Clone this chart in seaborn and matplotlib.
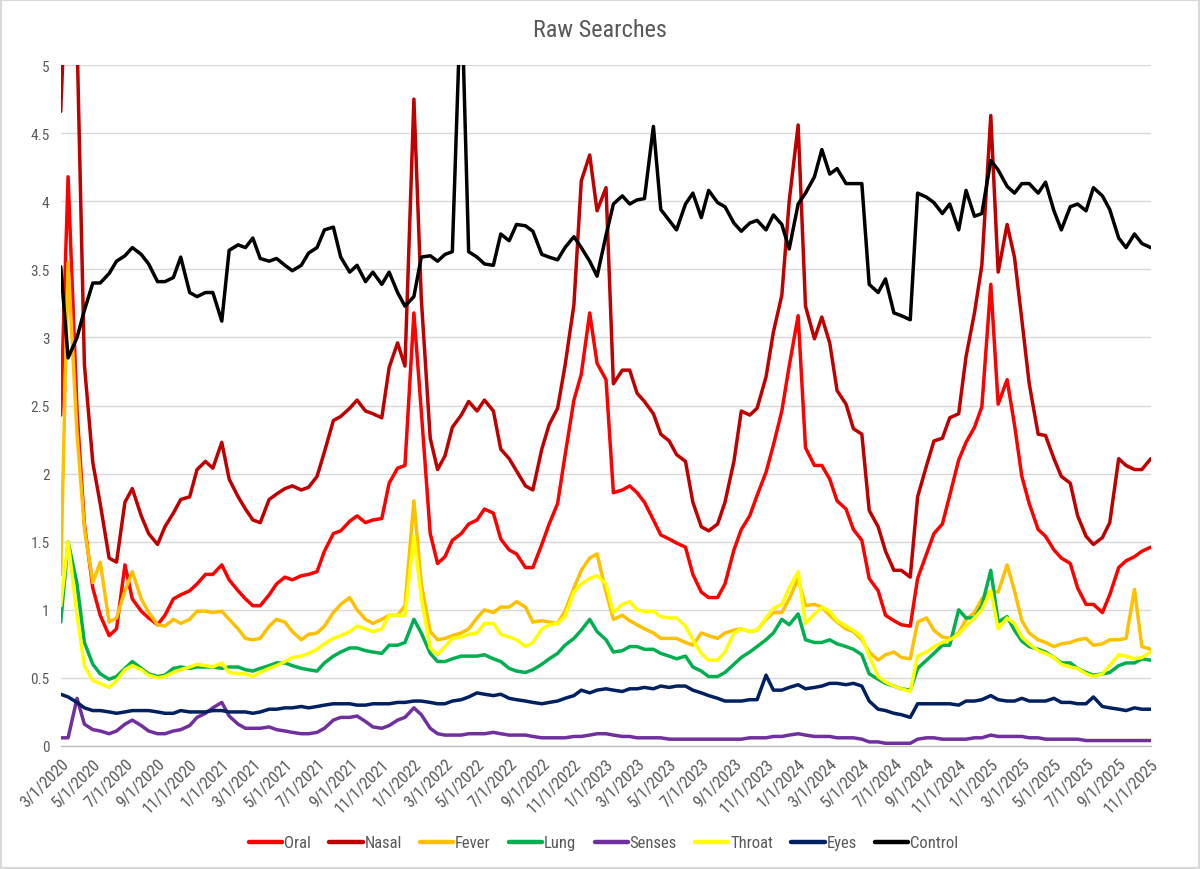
import pandas as pd
import matplotlib
matplotlib.use('Agg')
import matplotlib.pyplot as plt
import matplotlib.dates as mdates
from matplotlib.ticker import FuncFormatter
from matplotlib.lines import Line2D
from matplotlib.patches import Rectangle
from matplotlib import font_manager
import seaborn as sns

# Semi-monthly sample dates (1st and 15th), 3/1/2020 .. 11/1/2025
dates = pd.date_range('2020-03-01', '2025-11-01', freq='SMS')

oral = [2.43, 4.18, 2.46, 1.63, 1.16, 0.96, 0.81, 0.86, 1.33, 1.08,
        0.99, 0.94, 0.89, 0.96, 1.08, 1.11, 1.14, 1.19, 1.26, 1.26,
        1.33, 1.22, 1.14, 1.08, 1.03, 1.03, 1.11, 1.19, 1.24, 1.22,
        1.25, 1.26, 1.28, 1.43, 1.56, 1.58, 1.65, 1.69, 1.64, 1.66,
        1.67, 1.93, 2.04, 2.06, 3.18, 2.46, 1.56, 1.34, 1.39, 1.51,
        1.56, 1.63, 1.66, 1.74, 1.71, 1.52, 1.44, 1.41, 1.31, 1.31,
        1.48, 1.63, 1.78, 2.13, 2.54, 2.73, 3.18, 2.81, 2.69, 1.86,
        1.88, 1.91, 1.86, 1.79, 1.66, 1.55, 1.52, 1.49, 1.46, 1.26,
        1.13, 1.09, 1.09, 1.19, 1.44, 1.59, 1.69, 1.84, 2.01, 2.21,
        2.46, 2.79, 3.16, 2.19, 2.06, 2.06, 1.96, 1.80, 1.74, 1.59,
        1.51, 1.23, 1.14, 0.96, 0.92, 0.89, 0.88, 1.23, 1.41, 1.56,
        1.63, 1.84, 2.10, 2.23, 2.34, 2.49, 3.39, 2.51, 2.69, 2.36,
        1.98, 1.78, 1.59, 1.54, 1.44, 1.38, 1.34, 1.16, 1.04, 1.04,
        0.98, 1.11, 1.31, 1.36, 1.39, 1.43, 1.46]

nasal = [4.66, 6.00, 5.20, 2.80, 2.08, 1.78, 1.38, 1.35, 1.79, 1.89,
         1.69, 1.56, 1.48, 1.61, 1.71, 1.81, 1.83, 2.03, 2.09, 2.04,
         2.23, 1.96, 1.83, 1.74, 1.66, 1.64, 1.81, 1.85, 1.89, 1.91,
         1.88, 1.90, 1.98, 2.16, 2.39, 2.42, 2.48, 2.54, 2.46, 2.44,
         2.41, 2.78, 2.96, 2.79, 4.75, 3.29, 2.26, 2.03, 2.13, 2.34,
         2.43, 2.53, 2.46, 2.54, 2.46, 2.18, 2.11, 2.02, 1.91, 1.88,
         2.18, 2.36, 2.48, 2.79, 3.24, 4.15, 4.34, 3.93, 4.10, 2.66,
         2.76, 2.76, 2.59, 2.53, 2.44, 2.29, 2.24, 2.14, 2.09, 1.79,
         1.61, 1.58, 1.63, 1.79, 2.09, 2.46, 2.43, 2.48, 2.71, 3.04,
         3.31, 4.00, 4.56, 3.23, 2.99, 3.15, 2.96, 2.61, 2.51, 2.33,
         2.29, 1.73, 1.61, 1.43, 1.29, 1.29, 1.24, 1.83, 2.06, 2.24,
         2.26, 2.41, 2.44, 2.86, 3.18, 3.53, 4.63, 3.48, 3.83, 3.59,
         3.13, 2.66, 2.29, 2.28, 2.11, 1.98, 1.93, 1.69, 1.54, 1.48,
         1.53, 1.64, 2.11, 2.06, 2.03, 2.03, 2.11]

fever = [1.26, 3.55, 2.29, 1.60, 1.20, 1.35, 0.91, 0.94, 1.14, 1.28,
         1.08, 0.98, 0.89, 0.88, 0.93, 0.90, 0.93, 0.99, 0.99, 0.98,
         0.99, 0.93, 0.86, 0.79, 0.78, 0.79, 0.88, 0.93, 0.91, 0.84,
         0.78, 0.82, 0.83, 0.88, 0.98, 1.04, 1.09, 1.00, 0.93, 0.90,
         0.93, 0.96, 0.96, 1.03, 1.80, 1.19, 0.84, 0.78, 0.79, 0.81,
         0.83, 0.86, 0.94, 1.00, 0.98, 1.02, 1.02, 1.06, 1.02, 0.91,
         0.92, 0.91, 0.90, 0.99, 1.16, 1.29, 1.38, 1.41, 1.13, 0.93,
         0.96, 0.92, 0.89, 0.86, 0.83, 0.79, 0.79, 0.79, 0.76, 0.74,
         0.83, 0.81, 0.79, 0.83, 0.85, 0.86, 0.84, 0.85, 0.93, 0.98,
         0.98, 1.08, 1.23, 1.03, 1.04, 1.02, 0.96, 0.91, 0.86, 0.84,
         0.78, 0.69, 0.63, 0.67, 0.69, 0.65, 0.64, 0.91, 0.94, 0.85,
         0.80, 0.79, 0.83, 0.93, 0.98, 1.08, 1.14, 1.13, 1.33, 1.14,
         0.92, 0.83, 0.78, 0.76, 0.73, 0.75, 0.76, 0.78, 0.79, 0.74,
         0.75, 0.78, 0.78, 0.79, 1.15, 0.73, 0.71]

lung = [0.91, 1.50, 1.19, 0.76, 0.60, 0.53, 0.49, 0.51, 0.57, 0.62,
        0.57, 0.53, 0.51, 0.52, 0.57, 0.58, 0.57, 0.58, 0.58, 0.58,
        0.57, 0.58, 0.58, 0.56, 0.55, 0.57, 0.59, 0.61, 0.61, 0.59,
        0.57, 0.56, 0.55, 0.61, 0.66, 0.69, 0.72, 0.72, 0.70, 0.69,
        0.68, 0.74, 0.74, 0.76, 0.93, 0.83, 0.68, 0.62, 0.62, 0.64,
        0.66, 0.66, 0.66, 0.67, 0.64, 0.62, 0.57, 0.55, 0.54, 0.56,
        0.60, 0.64, 0.68, 0.74, 0.79, 0.85, 0.93, 0.84, 0.78, 0.69,
        0.70, 0.73, 0.73, 0.71, 0.71, 0.68, 0.66, 0.64, 0.66, 0.58,
        0.55, 0.51, 0.51, 0.54, 0.60, 0.65, 0.69, 0.73, 0.78, 0.83,
        0.93, 0.89, 0.97, 0.78, 0.76, 0.76, 0.78, 0.75, 0.73, 0.71,
        0.67, 0.53, 0.49, 0.46, 0.44, 0.42, 0.41, 0.57, 0.63, 0.68,
        0.74, 0.74, 1.00, 0.94, 0.94, 1.03, 1.29, 0.91, 0.95, 0.85,
        0.77, 0.73, 0.71, 0.69, 0.65, 0.61, 0.61, 0.57, 0.54, 0.52,
        0.53, 0.54, 0.59, 0.61, 0.61, 0.64, 0.63]

senses = [0.06, 0.06, 0.35, 0.16, 0.12, 0.11, 0.09, 0.11, 0.16, 0.19,
          0.15, 0.11, 0.09, 0.09, 0.11, 0.12, 0.15, 0.21, 0.24, 0.28,
          0.32, 0.22, 0.16, 0.13, 0.13, 0.13, 0.14, 0.12, 0.11, 0.10,
          0.09, 0.09, 0.10, 0.13, 0.19, 0.21, 0.21, 0.22, 0.18, 0.14,
          0.13, 0.15, 0.19, 0.21, 0.28, 0.23, 0.13, 0.09, 0.08, 0.08,
          0.08, 0.09, 0.09, 0.09, 0.10, 0.09, 0.08, 0.08, 0.08, 0.07,
          0.06, 0.06, 0.06, 0.06, 0.07, 0.07, 0.08, 0.09, 0.09, 0.08,
          0.07, 0.07, 0.06, 0.06, 0.06, 0.06, 0.05, 0.05, 0.05, 0.05,
          0.05, 0.05, 0.05, 0.05, 0.05, 0.05, 0.06, 0.06, 0.06, 0.07,
          0.07, 0.08, 0.09, 0.08, 0.07, 0.07, 0.07, 0.06, 0.06, 0.06,
          0.05, 0.03, 0.03, 0.02, 0.02, 0.02, 0.02, 0.05, 0.06, 0.06,
          0.05, 0.05, 0.05, 0.05, 0.06, 0.06, 0.08, 0.07, 0.07, 0.07,
          0.07, 0.06, 0.06, 0.05, 0.05, 0.05, 0.05, 0.05, 0.04, 0.04,
          0.04, 0.04, 0.04, 0.04, 0.04, 0.04, 0.04]

throat = [1.03, 1.50, 0.96, 0.59, 0.48, 0.46, 0.43, 0.48, 0.56, 0.59,
          0.56, 0.52, 0.50, 0.51, 0.54, 0.56, 0.58, 0.60, 0.59, 0.58,
          0.61, 0.54, 0.53, 0.53, 0.51, 0.54, 0.57, 0.59, 0.62, 0.65,
          0.66, 0.68, 0.71, 0.75, 0.79, 0.81, 0.84, 0.88, 0.86, 0.84,
          0.86, 0.96, 0.96, 0.96, 1.54, 1.09, 0.72, 0.67, 0.73, 0.79,
          0.80, 0.82, 0.83, 0.90, 0.90, 0.82, 0.80, 0.78, 0.73, 0.76,
          0.86, 0.89, 0.90, 0.95, 1.13, 1.19, 1.23, 1.25, 1.19, 0.98,
          1.04, 1.06, 1.00, 0.99, 0.99, 0.95, 0.94, 0.94, 0.88, 0.78,
          0.68, 0.63, 0.63, 0.69, 0.83, 0.86, 0.84, 0.85, 0.94, 1.01,
          1.04, 1.16, 1.28, 0.90, 0.97, 1.02, 0.99, 0.92, 0.88, 0.85,
          0.80, 0.66, 0.51, 0.47, 0.44, 0.42, 0.40, 0.66, 0.69, 0.73,
          0.76, 0.78, 0.82, 0.88, 0.94, 1.00, 1.14, 0.86, 0.94, 0.90,
          0.80, 0.75, 0.70, 0.68, 0.65, 0.60, 0.58, 0.57, 0.53, 0.51,
          0.53, 0.59, 0.67, 0.66, 0.64, 0.65, 0.69]

eyes = [0.38, 0.36, 0.32, 0.28, 0.26, 0.26, 0.25, 0.24, 0.25, 0.26,
        0.26, 0.26, 0.25, 0.24, 0.24, 0.26, 0.25, 0.25, 0.25, 0.26,
        0.26, 0.25, 0.25, 0.25, 0.24, 0.25, 0.27, 0.27, 0.28, 0.28,
        0.29, 0.28, 0.29, 0.30, 0.31, 0.31, 0.31, 0.30, 0.30, 0.31,
        0.31, 0.31, 0.32, 0.32, 0.33, 0.33, 0.32, 0.31, 0.31, 0.33,
        0.34, 0.36, 0.39, 0.38, 0.37, 0.38, 0.35, 0.34, 0.33, 0.32,
        0.31, 0.32, 0.33, 0.35, 0.37, 0.41, 0.39, 0.41, 0.42, 0.41,
        0.40, 0.42, 0.42, 0.43, 0.42, 0.44, 0.43, 0.44, 0.44, 0.41,
        0.39, 0.37, 0.35, 0.33, 0.33, 0.33, 0.34, 0.34, 0.52, 0.41,
        0.41, 0.43, 0.45, 0.42, 0.43, 0.44, 0.46, 0.46, 0.45, 0.46,
        0.44, 0.33, 0.27, 0.26, 0.24, 0.23, 0.21, 0.31, 0.31, 0.31,
        0.31, 0.31, 0.30, 0.33, 0.33, 0.34, 0.37, 0.34, 0.33, 0.33,
        0.35, 0.33, 0.33, 0.33, 0.35, 0.32, 0.32, 0.31, 0.31, 0.36,
        0.29, 0.28, 0.27, 0.26, 0.28, 0.27, 0.27]

control = [3.52, 2.85, 3.00, 3.20, 3.40, 3.40, 3.47, 3.56, 3.60, 3.66,
           3.61, 3.54, 3.41, 3.41, 3.44, 3.59, 3.33, 3.30, 3.33, 3.33,
           3.12, 3.64, 3.68, 3.66, 3.73, 3.58, 3.56, 3.58, 3.53, 3.49,
           3.53, 3.62, 3.66, 3.79, 3.81, 3.59, 3.48, 3.53, 3.41, 3.48,
           3.39, 3.48, 3.33, 3.23, 3.30, 3.59, 3.60, 3.56, 3.61, 3.63,
           5.60, 3.63, 3.59, 3.54, 3.53, 3.76, 3.71, 3.83, 3.82, 3.78,
           3.61, 3.59, 3.57, 3.66, 3.74, 3.66, 3.56, 3.45, 3.75, 3.98,
           4.04, 3.98, 4.01, 4.02, 4.55, 3.94, 3.86, 3.79, 3.98, 4.06,
           3.88, 4.08, 3.99, 3.96, 3.84, 3.78, 3.84, 3.86, 3.79, 3.90,
           3.83, 3.65, 3.98, 4.06, 4.18, 4.38, 4.20, 4.24, 4.13, 4.13,
           4.13, 3.39, 3.33, 3.43, 3.18, 3.16, 3.13, 4.06, 4.03, 3.99,
           3.91, 3.98, 3.79, 4.08, 3.89, 3.91, 4.30, 4.23, 4.11, 4.06,
           4.13, 4.13, 4.06, 4.14, 3.93, 3.79, 3.96, 3.98, 3.93, 4.10,
           4.04, 3.94, 3.73, 3.66, 3.76, 3.69, 3.66]

series_names = ['Oral', 'Nasal', 'Fever', 'Lung', 'Senses', 'Throat', 'Eyes', 'Control']
series_colors = ['#FF0000', '#C00000', '#FFC000', '#00B050', '#7030A0', '#FFFF00', '#002060', '#000000']

wide = pd.DataFrame({'Date': dates, 'Oral': oral, 'Nasal': nasal, 'Fever': fever,
                     'Lung': lung, 'Senses': senses, 'Throat': throat,
                     'Eyes': eyes, 'Control': control})
data = wide.melt(id_vars='Date', var_name='Series', value_name='Value')

sns.set_theme(style='white')
# narrow font if one is installed, otherwise Roboto
installed = {f.name for f in font_manager.fontManager.ttflist}
narrow = [n for n in ['Liberation Sans Narrow', 'Roboto Condensed', 'Open Sans Condensed']
          if n in installed]
plt.rcParams['font.family'] = narrow + ['Roboto', 'DejaVu Sans']
grey = '#595959'

fig = plt.figure(figsize=(12, 8.7), dpi=100)
ax = fig.add_axes([0.0506, 0.1414, 0.9084, 0.7826])

palette = dict(zip(series_names, series_colors))
sns.lineplot(data=data, x='Date', y='Value', hue='Series', hue_order=series_names,
             palette=palette, linewidth=2.5, ax=ax, legend=False)

ax.set_xlim(dates[0], dates[-1])
ax.set_ylim(0, 5)
ax.set_yticks([i * 0.5 for i in range(11)])
ax.yaxis.set_major_formatter(FuncFormatter(lambda v, p: f'{v:g}'))
ax.xaxis.set_major_locator(mdates.MonthLocator(bymonth=[1, 3, 5, 7, 9, 11], bymonthday=1))
ax.xaxis.set_major_formatter(FuncFormatter(
    lambda v, p: (lambda d: f'{d.month}/{d.day}/{d.year}')(mdates.num2date(v))))

ax.grid(axis='y', color='#D9D9D9', linewidth=1)
ax.set_axisbelow(True)
for s in ['top', 'right', 'left']:
    ax.spines[s].set_visible(False)
ax.spines['bottom'].set_color('#BFBFBF')
ax.spines['bottom'].set_linewidth(1)
ax.tick_params(axis='x', direction='out', length=5, width=1, color='#BFBFBF',
               labelsize=12, labelcolor=grey, pad=2)
ax.tick_params(axis='y', length=0, labelsize=11, labelcolor=grey, pad=8)
for lab in ax.get_xticklabels():
    lab.set_rotation(45)
    lab.set_ha('right')
    lab.set_rotation_mode('anchor')
ax.set_xlabel('')
ax.set_ylabel('')

fig.text(0.5, 0.965, 'Raw Searches', ha='center', va='center', fontsize=17.5, color=grey)

handles = [Line2D([0], [0], color=c, linewidth=3.2) for c in series_colors]
fig.legend(handles, series_names, loc='center', bbox_to_anchor=(0.503, 0.03), ncol=8,
           frameon=False, fontsize=12, labelcolor=grey, handlelength=2.0,
           handletextpad=0.1, columnspacing=1.1)

fig.patches.append(Rectangle((0.001, 0.001), 0.998, 0.998, transform=fig.transFigure,
                             fill=False, edgecolor='#D9D9D9', linewidth=1.5))

fig.savefig('out.png', dpi=100)
